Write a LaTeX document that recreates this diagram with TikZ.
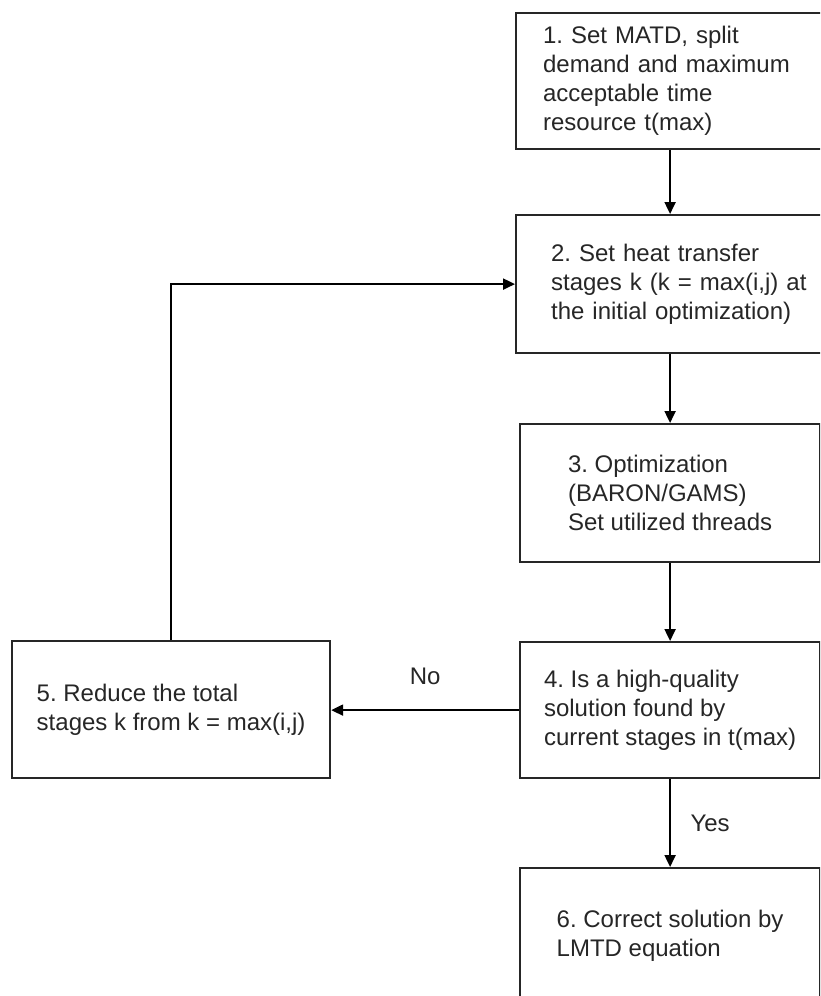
\documentclass[tikz,border=0pt]{standalone}
\usepackage{fontspec}
\setmainfont{Liberation Sans}
\frenchspacing
\usetikzlibrary{arrows.meta,positioning}
\tikzset{
  stepbox/.style={draw=black!85,line width=2.2pt,anchor=north west,align=left,
    font=\fontsize{24}{29}\selectfont,text=black!85},
  flow/.style={draw=black,line width=2.2pt,-{Triangle[length=12pt,width=11pt]}},
  flowlbl/.style={font=\fontsize{24}{29}\selectfont,text=black!85}
}
\begin{document}
\begin{tikzpicture}[x=1pt,y=1pt]
\useasboundingbox (0,0) rectangle (820,-996);
\clip (0,0) rectangle (820,-996);
% steps
\node[stepbox,minimum height=136pt,inner xsep=27pt,text width=262pt](b1) at (515,-12){1. Set MATD, split\\demand and maximum\\acceptable time\\resource t(max)};
\node[stepbox,minimum height=138pt,inner xsep=35pt,text width=262pt](b2) at (515,-214){2. Set heat transfer\\stages k (k = max(i,j) at\\the initial optimization)};
\node[stepbox,minimum height=138pt,minimum width=300pt](b3) at (519,-423){3. Optimization\\(BARON/GAMS)\\Set utilized threads};
\node[stepbox,minimum height=136pt,minimum width=300pt](b4) at (519,-641){4. Is a high-quality\\solution found by\\current stages in t(max)};
\node[stepbox,minimum height=137pt,minimum width=318pt](b5) at (11,-640){5. Reduce the total\\stages k from k = max(i,j)};
\node[stepbox,minimum height=136pt,minimum width=300pt](b6) at (519,-867){6. Correct solution by\\LMTD equation};
% arrows
\draw[flow](b1.south -| b3)--(b2.north -| b3);
\draw[flow](b2.south -| b3)--(b3);
\draw[flow](b3)--(b4);
\draw[flow](b4)--(b6)node[midway,right=16pt,flowlbl]{Yes};
\draw[flow](b4.west)--(b4.west -| b5.east)node[midway,above=21pt,flowlbl]{No};
\draw[flow](b5)|-(b2);
\end{tikzpicture}
\end{document}
